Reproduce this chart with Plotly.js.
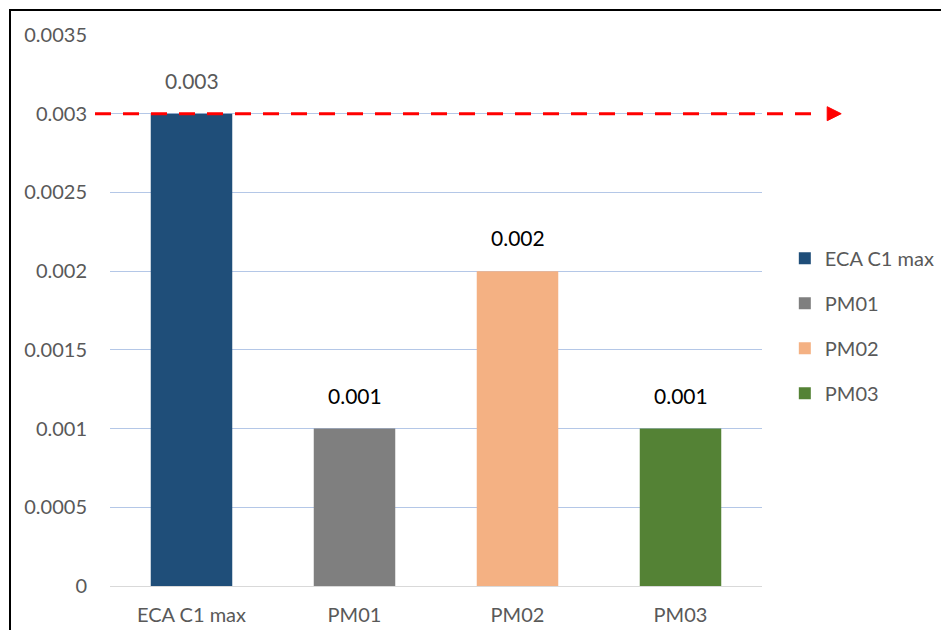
<!DOCTYPE html>
<html>
<head>
<meta charset="utf-8">
<script src="https://cdn.plot.ly/plotly-3.0.1.min.js"></script>
<style>
body{margin:0;padding:0;background:#fff;}
#chart{width:941px;height:630px;position:absolute;left:0;top:0;}
#frame{position:absolute;left:9px;top:9px;width:940px;height:630px;border-top:2px solid #000;border-left:2px solid #000;pointer-events:none;}
</style>
</head>
<body>
<div id="chart"></div>
<div id="frame"></div>
<script>
const categories = ["ECA C1 max", "PM01", "PM02", "PM03"];
const values = [0.003, 0.001, 0.002, 0.001];
const colors = ["#1f4e79", "#7f7f7f", "#f4b183", "#548235"];
const labelColors = ["#595959", "#000000", "#000000", "#000000"];
const yTicks = [0, 0.0005, 0.001, 0.0015, 0.002, 0.0025, 0.003, 0.0035];
const yTickText = ["0", "0.0005", "0.001", "0.0015", "0.002", "0.0025", "0.003", "0.0035"];
const threshold = 0.003;

const FONT = "Lato, 'Liberation Sans', sans-serif";

const traces = categories.map((c, i) => ({
  type: "bar",
  x: [c],
  y: [values[i]],
  name: c,
  legendgroup: c,
  marker: {color: colors[i]},
  hoverinfo: "x+y"
}));

const annotations = categories.map((c, i) => ({
  x: c, y: values[i], xref: "x", yref: "y",
  text: String(values[i]),
  showarrow: false, yanchor: "bottom", yshift: 19,
  font: {family: FONT, size: 21, color: labelColors[i]}
}));

const layout = {
  width: 941, height: 630,
  margin: {l: 110, r: 179, t: 35, b: 44, autoexpand: false},
  paper_bgcolor: "#fff", plot_bgcolor: "#fff",
  barmode: "overlay",
  bargap: 0.5,
  showlegend: true,
  legend: {
    x: 1.035, y: 0.63, xanchor: "left", yanchor: "top",
    font: {family: FONT, size: 20, color: "#595959"},
    tracegroupgap: 16, itemwidth: 30
  },
  xaxis: {
    type: "category", categoryorder: "array", categoryarray: categories,
    showgrid: false, showline: false, zeroline: false,
    ticks: "", ticklabelstandoff: 15,
    tickfont: {family: FONT, size: 20, color: "#595959"}
  },
  yaxis: {
    range: [0, 0.0035], tickvals: yTicks, ticktext: yTickText,
    showgrid: true, gridcolor: "#b4c7e7", gridwidth: 1,
    zeroline: true, zerolinecolor: "#d9d9d9", zerolinewidth: 1,
    showline: false, ticks: "", ticklabelstandoff: 22,
    tickfont: {family: FONT, size: 20, color: "#595959"}
  },
  annotations: annotations,
  shapes: [
    {type: "line", xref: "paper", yref: "y", x0: -0.023, x1: 1.085, y0: threshold, y1: threshold,
     line: {color: "#ff0000", width: 3, dash: "16px,12px"}, layer: "above"},
    {type: "path", xref: "paper", yref: "y", xsizemode: "pixel", ysizemode: "pixel",
     xanchor: 1.1, yanchor: threshold,
     path: "M 0 -7 L 14 0 L 0 7 Z",
     fillcolor: "#ff0000", line: {color: "#ff0000", width: 1}, layer: "above"}
  ]
};

Plotly.newPlot("chart", traces, layout, {displayModeBar: false, staticPlot: true});
</script>
</body>
</html>
